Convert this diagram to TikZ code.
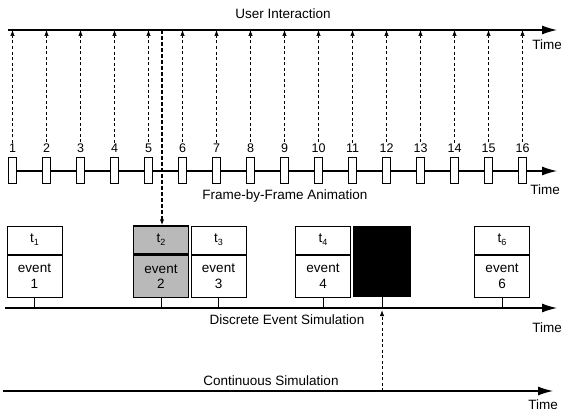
\documentclass[tikz,border=0pt]{standalone}
\usepackage{fontspec}
\setmainfont{Liberation Sans}
\usetikzlibrary{arrows.meta, positioning}
\newcommand{\tsub}[1]{\raisebox{-0.45ex}{\fontsize{9}{10}\selectfont #1}}

\tikzset{
  axis/.style={line width=1.2pt, -{Latex[length=15pt,width=9pt]}},
  frame/.style={draw, line width=1pt, fill=white, minimum width=8pt, minimum height=26pt, inner sep=0pt},
  num/.style={font=\fontsize{12.5}{14}\selectfont, inner sep=1pt},
  lbl/.style={font=\fontsize{13.5}{15}\selectfont, inner sep=0pt},
  uparrow/.style={dash pattern=on 3pt off 2.5pt, line width=0.7pt, -{Latex[length=6pt,width=4.5pt]}},
  evtop/.style={draw, line width=1pt, fill=white, minimum width=55pt, minimum height=28pt, inner sep=0pt, font=\fontsize{13.5}{15}\selectfont},
  evbot/.style={draw, line width=1pt, fill=white, minimum width=55pt, minimum height=42pt, inner sep=0pt, align=center, font=\fontsize{13.5}{15.5}\selectfont},
  hit/.style={fill=gray!55, line width=1.4pt}
}

\begin{document}
\begin{tikzpicture}[x=1pt, y=-1pt]
    \useasboundingbox (0,0) rectangle (561,412);

    % time lines
    \coordinate (ua) at (8,30);   \coordinate (ub) at (557,30);
    \coordinate (fa) at (8,171);  \coordinate (fb) at (557,171);
    \coordinate (da) at (5,308);  \coordinate (db) at (557,308);
    \coordinate (ca) at (3,391);  \coordinate (cb) at (553,391);
    \draw[axis] (ua) -- (ub);
    \draw[axis] (fa) -- (fb);
    \draw[axis] (da) -- (db);
    \draw[axis] (ca) -- (cb);

    \node[lbl] (ui) at (283,14) {User Interaction};
    \node[lbl] (fba) at (285,196) {Frame-by-Frame Animation};
    \node[lbl] (des) at (287,320) {Discrete Event Simulation};
    \node[lbl] (cs) at (271,381) {Continuous Simulation};
    \node[lbl] (time1) at (547,45) {Time};
    \node[lbl] (time2) at (545,190) {Time};
    \node[lbl] (time3) at (547,328) {Time};
    \node[lbl] (time4) at (543,405) {Time};

    % frames
    \foreach \i in {1,...,16} {
        \node[frame] (f\i) at ({12.5+34*(\i-1)},170.5) {};
        \node[num] (n\i) at ({12.5+34*(\i-1)},148) {\i};
        \draw[uparrow] (n\i.north) -- (n\i.north |- ua);
    }

    % events
    \node[evtop] (t1) at (34.5,240) {t\tsub{1}};
    \node[evbot, below=0pt of t1] (ev1) {event\\1};
    \node[evtop, hit] (t2) at (161,240) {t\tsub{2}};
    \node[evbot, hit, below=0pt of t2] (ev2) {event\\2};
    \node[evtop] (t3) at (218.5,240) {t\tsub{3}};
    \node[evbot, below=0pt of t3] (ev3) {event\\3};
    \node[evtop] (t4) at (323,240) {t\tsub{4}};
    \node[evbot, below=0pt of t4] (ev4) {event\\4};
    \node[draw, line width=1pt, fill=black, minimum width=57pt, minimum height=70pt] (blk) at (382,261) {};
    \node[evtop] (t6) at (502,240) {t\tsub{6}};
    \node[evbot, below=0pt of t6] (ev6) {event\\6};

    \draw[line width=1pt] (ev1.south) -- (ev1.south |- da);
    \draw[line width=1pt] (ev2.south) -- (ev2.south |- da);
    \draw[line width=1pt] (ev3.south) -- (ev3.south |- da);
    \draw[line width=1pt] (ev4.south) -- (ev4.south |- da);
    \draw[line width=1pt] (blk.south) -- (blk.south |- da);
    \draw[line width=1pt] (ev6.south) -- (ev6.south |- da);

    % interaction hits event 2, continuous sim feeds the black event
    \draw[uparrow, line width=1.2pt, dash pattern=on 4pt off 2pt] ([xshift=1pt]t2.north |- ua) -- ([xshift=1pt]t2.north);
    \draw[uparrow, line width=1pt] (blk.south |- ca) -- ([yshift=-2pt]blk.south |- da);
\end{tikzpicture}
\end{document}
